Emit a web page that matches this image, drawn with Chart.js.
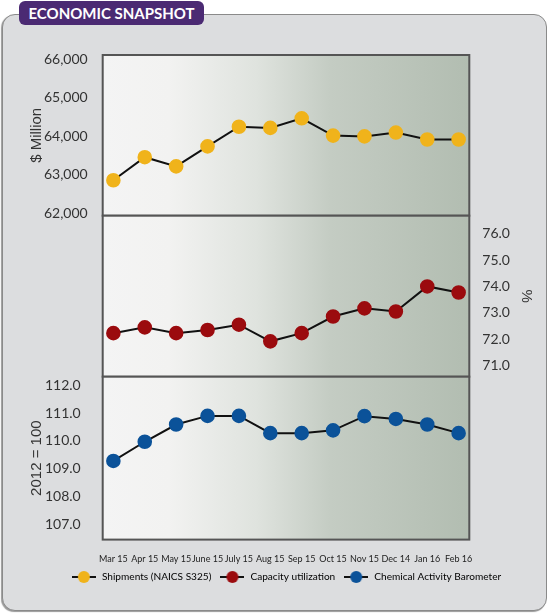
<!DOCTYPE html>
<html>
<head>
<meta charset="utf-8">
<script src="https://cdn.jsdelivr.net/npm/chart.js@4.4.0/dist/chart.umd.min.js"></script>
<style>
  body { margin: 0; background: #fff; }
  #wrap { position: relative; width: 550px; height: 613px; overflow: hidden; }
  #frame {
    position: absolute; left: 2px; top: 14px; width: 543px; height: 595px;
    background: #dcdddf; border: 1.5px solid #8a8a8a; border-radius: 13px;
    box-shadow: -1px 1px 1px #9a9a9a;
  }
  #tab {
    position: absolute; left: 19px; top: 1px; width: 185px; height: 24px;
    background: #4b2a73; border-radius: 6px;
    color: #fff; font: bold 15px Lato, sans-serif; line-height: 25px; text-align: center;
  }
  canvas { position: absolute; left: 0; }
</style>
</head>
<body>
<div id="wrap">
  <div id="frame"></div>
  <div id="tab">ECONOMIC SNAPSHOT</div>
  <canvas id="topChart" width="550" height="240" style="top:0px"></canvas>
  <canvas id="midChart" width="550" height="215" style="top:190px"></canvas>
  <canvas id="botChart" width="550" height="263" style="top:350px"></canvas>
</div>
<script>
// data
const months = ['Mar 15', 'Apr 15', 'May 15', 'June 15', 'July 15', 'Aug 15', 'Sep 15', 'Oct 15', 'Nov 15', 'Dec 14', 'Jan 16', 'Feb 16'];
const shipments = [62850, 63450, 63210, 63730, 64240, 64210, 64460, 64010, 63990, 64090, 63910, 63910];
const capacity = [72.23, 72.45, 72.23, 72.35, 72.55, 71.92, 72.23, 72.86, 73.17, 73.05, 74.0, 73.77];
const barometer = [109.28, 109.97, 110.59, 110.9, 110.9, 110.28, 110.28, 110.38, 110.89, 110.79, 110.59, 110.28];

const shipTicks = [62000, 63000, 64000, 65000, 66000];
const capTicks = [71, 72, 73, 74, 75, 76];
const cabTicks = [107, 108, 109, 110, 111, 112];

const seriesNames = ['Shipments (NAICS S325)', 'Capacity utilization', 'Chemical Activity Barometer'];
const seriesColors = ['#f0b31b', '#9b0b0e', '#0b5299'];

const tickFont = { family: 'Lato', size: 14 };
const titleFont = { family: 'Liberation Sans', size: 15 };

// plot area gradient + frame
const panelBg = {
  id: 'panelBg',
  beforeDatasetsDraw(chart) {
    const a = chart.chartArea;
    const ctx = chart.ctx;
    const g = ctx.createLinearGradient(a.left, 0, a.right, 0);
    g.addColorStop(0, '#f4f4f4');
    g.addColorStop(0.18, '#f2f2f1');
    g.addColorStop(0.42, '#dfe3de');
    g.addColorStop(0.62, '#c4ccc3');
    g.addColorStop(1, '#b2bdb1');
    ctx.save();
    ctx.fillStyle = g;
    ctx.fillRect(a.left, a.top, a.right - a.left, a.bottom - a.top);
    ctx.strokeStyle = '#555';
    ctx.lineWidth = 2;
    ctx.strokeRect(a.left, a.top, a.right - a.left, a.bottom - a.top);
    ctx.restore();
  }
};

function xScale(show) {
  return {
    type: 'linear', min: -0.34, max: 11.34, display: show,
    grid: { display: false, drawTicks: false }, border: { display: false },
    afterBuildTicks: s => { s.ticks = months.map((m, i) => ({ value: i })); },
    afterFit: s => { if (show) s.height = 24.3; },
    ticks: {
      padding: 14, color: '#222', font: { family: 'Lato', size: 9 },
      maxRotation: 0, autoSkip: false,
      callback: v => months[v]
    }
  };
}

function lineSet(label, values, color) {
  return {
    label: label,
    data: values.map((v, i) => ({ x: i, y: v })),
    borderColor: '#111', borderWidth: 2,
    pointBackgroundColor: color, pointBorderColor: color,
    pointRadius: 6.3, tension: 0
  };
}

function legendIcon(color) {
  const c = document.createElement('canvas');
  c.width = 24; c.height = 14;
  const x = c.getContext('2d');
  x.strokeStyle = '#111'; x.lineWidth = 2;
  x.beginPath(); x.moveTo(0, 7); x.lineTo(24, 7); x.stroke();
  x.fillStyle = color;
  x.beginPath(); x.arc(12, 7, 6, 0, Math.PI * 2); x.fill();
  return c;
}

// top panel: shipments
new Chart(document.getElementById('topChart'), {
  type: 'line',
  data: { datasets: [lineSet(seriesNames[0], shipments, seriesColors[0])] },
  options: {
    responsive: false, animation: false, devicePixelRatio: 1,
    layout: { padding: { left: 25, right: 80.7, top: 55, bottom: 24.3 } },
    plugins: { legend: { display: false }, tooltip: { enabled: false } },
    scales: {
      x: xScale(false),
      y: {
        min: 61930, max: 66104,
        grid: { display: false }, border: { display: false },
        afterBuildTicks: s => { s.ticks = shipTicks.map(v => ({ value: v })); },
        afterFit: s => { s.width = 77.7; },
        ticks: { color: '#333', font: tickFont, padding: 7, callback: v => v.toLocaleString('en-US') },
        title: { display: true, text: '$ Million', color: '#333', font: titleFont, padding: { top: 3, bottom: 0 } }
      }
    }
  },
  plugins: [panelBg]
});

// middle panel: capacity utilization
new Chart(document.getElementById('midChart'), {
  type: 'line',
  data: { datasets: [lineSet(seriesNames[1], capacity, seriesColors[1])] },
  options: {
    responsive: false, animation: false, devicePixelRatio: 1,
    layout: { padding: { left: 102.7, right: 15.3, top: 25.7, bottom: 28.3 } },
    plugins: { legend: { display: false }, tooltip: { enabled: false } },
    scales: {
      x: xScale(false),
      y: {
        position: 'right', min: 70.58, max: 76.68,
        grid: { display: false }, border: { display: false },
        afterBuildTicks: s => { s.ticks = capTicks.map(v => ({ value: v })); },
        afterFit: s => { s.width = 65.4; },
        ticks: { color: '#333', font: tickFont, padding: 5, callback: v => v.toFixed(1) },
        title: { display: true, text: '%', color: '#333', font: titleFont, padding: 0 }
      }
    }
  },
  plugins: [panelBg]
});

// bottom panel: chemical activity barometer + x axis + legend
new Chart(document.getElementById('botChart'), {
  type: 'line',
  data: { datasets: [lineSet(seriesNames[2], barometer, seriesColors[2])] },
  options: {
    responsive: false, animation: false, devicePixelRatio: 1,
    layout: { padding: { left: 22, right: 0, top: 26.7, bottom: 21 } },
    plugins: {
      tooltip: { enabled: false },
      legend: {
        position: 'bottom',
        labels: {
          usePointStyle: true, pointStyleWidth: 26, padding: 8,
          color: '#222', font: { family: 'Lato', size: 10.1 },
          generateLabels: () => seriesNames.map((n, i) => ({
            text: n, pointStyle: legendIcon(seriesColors[i]),
            fillStyle: seriesColors[i], strokeStyle: seriesColors[i], lineWidth: 0,
            hidden: false, datasetIndex: i
          }))
        }
      }
    },
    scales: {
      x: xScale(true),
      y: {
        min: 106.45, max: 112.31,
        grid: { display: false }, border: { display: false },
        afterBuildTicks: s => { s.ticks = cabTicks.map(v => ({ value: v })); },
        afterFit: s => { s.width = 80.7; },
        ticks: { color: '#333', font: tickFont, padding: 14, callback: v => v.toFixed(1) },
        title: { display: true, text: '2012 = 100', color: '#333', font: titleFont, padding: { top: 6, bottom: 0 } }
      },
      yPad: {
        position: 'right', display: true,
        grid: { display: false }, border: { display: false },
        ticks: { display: false },
        afterFit: s => { s.width = 80.7; }
      }
    }
  },
  plugins: [panelBg]
});
</script>
</body>
</html>
